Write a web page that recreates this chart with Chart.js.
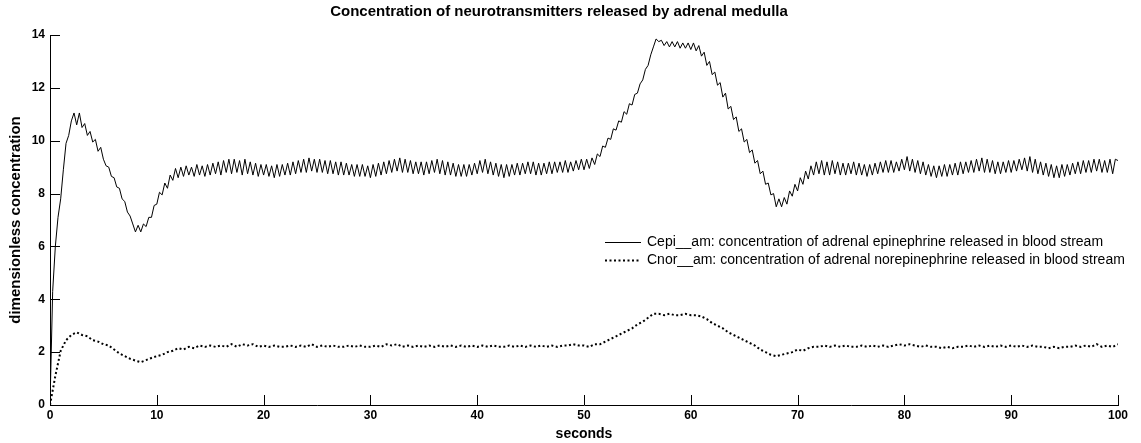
<!DOCTYPE html>
<html>
<head>
<meta charset="utf-8">
<script src="https://cdn.jsdelivr.net/npm/chart.js@4/dist/chart.umd.min.js"></script>
<style>
  html, body { margin: 0; padding: 0; background: #fff; }
</style>
</head>
<body>
<canvas id="lineChart" width="1141" height="443"></canvas>
<script>
// sample steps (seconds) of each series
const epiStep = 0.25;
const norStep = 0.5;

// Cepi__am, one row = 5 s
const epiValues = [
  0, 4.3, 6.0, 7.1, 7.8, 8.9, 9.9, 10.2, 10.75, 11.05, 10.6, 11.05, 10.5, 10.65, 10.2, 10.35, 9.95, 10.05, 9.6, 9.75,
  9.3, 9.05, 9.0, 8.65, 8.6, 8.25, 8.2, 7.8, 7.7, 7.3, 7.15, 6.85, 6.55, 6.8, 6.55, 6.85, 6.75, 7.1, 7.1, 7.55,
  7.6, 8.05, 7.95, 8.4, 8.2, 8.7, 8.5, 8.95, 8.6, 9.0, 8.65, 9.05, 8.7, 9.0, 8.65, 9.1, 8.7, 9.05, 8.65, 9.1,
  8.7, 9.15, 8.75, 9.2, 8.7, 9.25, 8.8, 9.3, 8.75, 9.3, 8.8, 9.25, 8.7, 9.3, 8.75, 9.2, 8.7, 9.15, 8.65, 9.1,
  8.7, 9.1, 8.65, 9.05, 8.6, 9.1, 8.65, 9.1, 8.7, 9.15, 8.7, 9.2, 8.75, 9.25, 8.8, 9.3, 8.8, 9.35, 8.85, 9.3,
  8.8, 9.3, 8.8, 9.25, 8.75, 9.25, 8.75, 9.2, 8.7, 9.2, 8.7, 9.15, 8.7, 9.1, 8.65, 9.1, 8.65, 9.1, 8.65, 9.05,
  8.6, 9.1, 8.65, 9.15, 8.7, 9.2, 8.75, 9.25, 8.8, 9.3, 8.85, 9.35, 8.8, 9.3, 8.8, 9.25, 8.75, 9.2, 8.75, 9.2,
  8.7, 9.2, 8.75, 9.25, 8.8, 9.3, 8.75, 9.25, 8.7, 9.2, 8.7, 9.15, 8.65, 9.1, 8.65, 9.1, 8.65, 9.1, 8.7, 9.15,
  8.75, 9.25, 8.8, 9.3, 8.75, 9.2, 8.7, 9.15, 8.65, 9.1, 8.6, 9.1, 8.65, 9.1, 8.7, 9.15, 8.7, 9.15, 8.75, 9.2,
  8.75, 9.2, 8.7, 9.15, 8.7, 9.15, 8.75, 9.2, 8.75, 9.2, 8.8, 9.2, 8.8, 9.25, 8.8, 9.2, 8.85, 9.25, 8.9, 9.3,
  8.9, 9.3, 8.95, 9.35, 9.1, 9.5, 9.4, 9.8, 9.75, 10.1, 10.05, 10.45, 10.4, 10.75, 10.7, 11.1, 11.0, 11.4, 11.35, 11.75,
  11.8, 12.15, 12.3, 12.7, 12.85, 13.25, 13.55, 13.85, 13.75, 13.8, 13.6, 13.75, 13.55, 13.75, 13.55, 13.75, 13.5, 13.7, 13.5, 13.7,
  13.45, 13.7, 13.4, 13.6, 13.2, 13.35, 12.85, 13.0, 12.5, 12.6, 12.1, 12.2, 11.65, 11.8, 11.2, 11.3, 10.8, 10.9, 10.35, 10.45,
  9.95, 10.05, 9.55, 9.65, 9.15, 9.25, 8.75, 8.85, 8.35, 8.4, 7.95, 8.0, 7.5, 7.8, 7.5, 7.85, 7.6, 8.1, 7.9, 8.35,
  8.1, 8.6, 8.35, 8.85, 8.55, 9.05, 8.7, 9.2, 8.75, 9.25, 8.7, 9.2, 8.7, 9.25, 8.75, 9.2, 8.7, 9.15, 8.7, 9.15,
  8.75, 9.2, 8.7, 9.15, 8.7, 9.1, 8.65, 9.1, 8.7, 9.15, 8.75, 9.2, 8.8, 9.25, 8.8, 9.25, 8.8, 9.2, 8.85, 9.3,
  8.9, 9.4, 8.85, 9.3, 8.8, 9.25, 8.75, 9.2, 8.7, 9.1, 8.65, 9.05, 8.6, 9.05, 8.65, 9.1, 8.65, 9.1, 8.7, 9.15,
  8.7, 9.2, 8.75, 9.2, 8.8, 9.25, 8.8, 9.3, 8.85, 9.35, 8.8, 9.3, 8.8, 9.25, 8.75, 9.2, 8.75, 9.2, 8.8, 9.25,
  8.8, 9.25, 8.85, 9.3, 8.9, 9.35, 8.85, 9.4, 8.8, 9.3, 8.75, 9.2, 8.7, 9.15, 8.65, 9.1, 8.6, 9.05, 8.6, 9.1,
  8.65, 9.1, 8.7, 9.15, 8.75, 9.2, 8.75, 9.25, 8.8, 9.25, 8.8, 9.3, 8.85, 9.3, 8.8, 9.25, 8.8, 9.3, 8.75, 9.3,
  9.25
];

// Cnor__am, one row = 10 s
const norValues = [
  0, 1.1, 2.05, 2.45, 2.65, 2.75, 2.65, 2.6, 2.45, 2.4, 2.3, 2.25, 2.1, 1.95, 1.85, 1.75, 1.68, 1.62, 1.7, 1.78,
  1.85, 1.9, 2.0, 2.05, 2.15, 2.1, 2.2, 2.15, 2.25, 2.2, 2.25, 2.2, 2.25, 2.2, 2.3, 2.2, 2.3, 2.25, 2.3, 2.2,
  2.25, 2.2, 2.25, 2.2, 2.2, 2.25, 2.2, 2.25, 2.2, 2.3, 2.2, 2.25, 2.2, 2.25, 2.2, 2.2, 2.25, 2.2, 2.25, 2.2,
  2.2, 2.25, 2.2, 2.3, 2.25, 2.3, 2.2, 2.25, 2.2, 2.25, 2.2, 2.25, 2.2, 2.25, 2.2, 2.25, 2.2, 2.25, 2.2, 2.25,
  2.2, 2.25, 2.2, 2.25, 2.2, 2.2, 2.25, 2.2, 2.25, 2.2, 2.25, 2.2, 2.25, 2.2, 2.25, 2.2, 2.25, 2.25, 2.3, 2.25,
  2.25, 2.2, 2.3, 2.3, 2.4, 2.5, 2.6, 2.7, 2.8, 2.9, 3.05, 3.15, 3.3, 3.45, 3.45, 3.4, 3.45, 3.4, 3.4, 3.45,
  3.4, 3.4, 3.35, 3.25, 3.1, 3.0, 2.9, 2.75, 2.65, 2.55, 2.45, 2.35, 2.25, 2.1, 2.0, 1.9, 1.85, 1.9, 1.95, 2.0,
  2.1, 2.05, 2.15, 2.2, 2.2, 2.25, 2.2, 2.25, 2.2, 2.25, 2.2, 2.2, 2.25, 2.2, 2.25, 2.2, 2.25, 2.2, 2.25, 2.3,
  2.25, 2.3, 2.25, 2.2, 2.25, 2.2, 2.2, 2.15, 2.2, 2.15, 2.2, 2.2, 2.25, 2.2, 2.25, 2.2, 2.25, 2.2, 2.25, 2.2,
  2.25, 2.2, 2.25, 2.2, 2.25, 2.2, 2.2, 2.15, 2.2, 2.15, 2.2, 2.2, 2.25, 2.2, 2.25, 2.2, 2.3, 2.2, 2.25, 2.2,
  2.3
];

const seriesLabels = [
  'Cepi__am: concentration of adrenal epinephrine released in blood stream',
  'Cnor__am: concentration of adrenal norepinephrine released in blood stream'
];
const xTicks = [0, 10, 20, 30, 40, 50, 60, 70, 80, 90, 100];
const yTicks = [0, 2, 4, 6, 8, 10, 12, 14];

const FONT = "'Liberation Sans', Arial, Helvetica, sans-serif";

const toPoints = (values, step) => values.map((v, i) => ({ x: i * step, y: v }));

// MATLAB style ticks, pointing into the axes
const innerTicks = {
    id: 'innerTicks',
    afterDraw(chart) {
        const ctx = chart.ctx;
        const area = chart.chartArea;
        const xs = chart.scales.x, ys = chart.scales.y;
        ctx.save();
        ctx.strokeStyle = '#000';
        ctx.lineWidth = 1;
        ctx.beginPath();
        xTicks.forEach(t => {
            const px = Math.round(xs.getPixelForValue(t)) + 0.5;
            ctx.moveTo(px, area.bottom);
            ctx.lineTo(px, area.bottom - 10);
        });
        yTicks.forEach(t => {
            const py = Math.round(ys.getPixelForValue(t)) + 0.5;
            ctx.moveTo(area.left, py);
            ctx.lineTo(area.left + 10, py);
        });
        ctx.stroke();
        ctx.restore();
    }
};

// legend inside the axes, no frame
const insideLegend = {
    id: 'insideLegend',
    afterDraw(chart) {
        const ctx = chart.ctx;
        ctx.save();
        ctx.font = '14px ' + FONT;
        ctx.fillStyle = '#000';
        ctx.textBaseline = 'middle';
        chart.data.datasets.forEach((ds, i) => {
            const y = 242 + i * 18;
            ctx.strokeStyle = '#000';
            ctx.lineWidth = ds.borderWidth;
            ctx.setLineDash(ds.borderDash || []);
            ctx.beginPath();
            ctx.moveTo(605, y + 0.5);
            ctx.lineTo(641, y + 0.5);
            ctx.stroke();
            ctx.setLineDash([]);
            ctx.fillText(ds.label, 647, y);
        });
        ctx.restore();
    }
};

const ctx = document.getElementById('lineChart').getContext('2d');
const myChart = new Chart(ctx, {
    type: 'line',
    data: {
        datasets: [
            {
                label: seriesLabels[0],
                data: toPoints(epiValues, epiStep),
                borderColor: '#000',
                borderWidth: 1,
                pointRadius: 0,
                tension: 0
            },
            {
                label: seriesLabels[1],
                data: toPoints(norValues, norStep),
                borderColor: '#000',
                borderWidth: 2,
                borderDash: [2, 2.5],
                pointRadius: 0,
                tension: 0
            }
        ]
    },
    options: {
        responsive: false,
        animation: false,
        layout: { padding: { left: 0, right: 23, top: 0, bottom: 0 } },
        scales: {
            x: {
                type: 'linear',
                min: 0,
                max: 100,
                afterBuildTicks: (scale) => { scale.ticks = xTicks.map(v => ({ value: v })); },
                afterFit: (scale) => { scale.height = 38; },
                grid: { display: false, drawTicks: false },
                border: { display: true, color: '#000', width: 1 },
                ticks: {
                    color: '#000',
                    padding: 3,
                    maxRotation: 0,
                    font: { family: FONT, size: 12, weight: 'bold' }
                },
                title: {
                    display: true,
                    text: 'seconds',
                    color: '#000',
                    padding: { top: 0, bottom: 0 },
                    font: { family: FONT, size: 14, weight: 'bold' }
                }
            },
            y: {
                min: 0,
                max: 14,
                afterBuildTicks: (scale) => { scale.ticks = yTicks.map(v => ({ value: v })); },
                afterFit: (scale) => { scale.width = 50; },
                grid: { display: false, drawTicks: false },
                border: { display: true, color: '#000', width: 1 },
                ticks: {
                    color: '#000',
                    padding: 5,
                    font: { family: FONT, size: 12, weight: 'bold' }
                },
                title: {
                    display: true,
                    text: 'dimensionless concentration',
                    color: '#000',
                    padding: { top: 7, bottom: 0 },
                    font: { family: FONT, size: 15, weight: 'bold' }
                }
            }
        },
        plugins: {
            legend: { display: false },
            tooltip: { enabled: false },
            title: {
                display: true,
                text: 'Concentration of neurotransmitters released by adrenal medulla',
                color: '#000',
                padding: { top: 3, bottom: 14 },
                font: { family: FONT, size: 15, weight: 'bold' }
            }
        }
    },
    plugins: [innerTicks, insideLegend]
});
</script>
</body>
</html>
